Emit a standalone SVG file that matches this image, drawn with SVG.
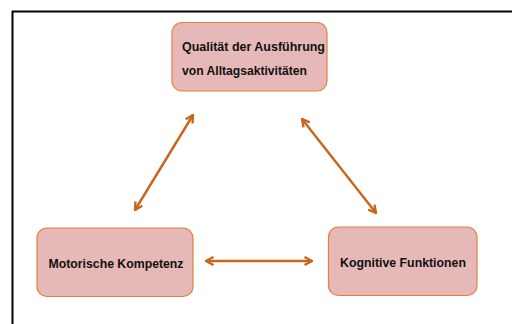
<svg xmlns="http://www.w3.org/2000/svg" width="512" height="324" viewBox="0 0 512 324">
<defs>
<style>
.box{fill:#e6b8b8;stroke:#e0843a;stroke-width:1.2}
.lbl{font-family:"Liberation Sans",Arial,sans-serif;font-weight:bold;font-size:12px;fill:#111}
.big{font-size:13px}
.conn{stroke:#c8661c;stroke-width:2.4;fill:none}
</style>
<marker id="ah" viewBox="0 0 10 10" refX="9" refY="5" markerWidth="10" markerHeight="10" markerUnits="userSpaceOnUse" orient="auto-start-reverse">
<polyline points="1.5,1 9,5 1.5,9" fill="none" stroke="#c8661c" stroke-width="2.4"/>
</marker>
</defs>
<rect width="512" height="324" fill="#fff"/>
<g id="frame">
<line x1="12" y1="11.5" x2="512" y2="11.5" stroke="#000" stroke-width="2"/>
<line x1="12.5" y1="11" x2="12.5" y2="324" stroke="#000" stroke-width="2"/>
</g>
<g id="n1">
<rect class="box" x="172" y="22.5" width="155" height="68.5" rx="10"/>
<text class="lbl" x="182" y="51" textLength="143" lengthAdjust="spacingAndGlyphs">Qualität der Ausführung</text>
<text class="lbl" x="182" y="75" textLength="125" lengthAdjust="spacingAndGlyphs">von Alltagsaktivitäten</text>
</g>
<g id="n2">
<rect class="box" x="37" y="228" width="156" height="68.5" rx="10"/>
<text class="lbl big" x="48.5" y="267.5" textLength="135" lengthAdjust="spacingAndGlyphs">Motorische Kompetenz</text>
</g>
<g id="n3">
<rect class="box" x="328.5" y="227" width="148.5" height="68.5" rx="10"/>
<text class="lbl big" x="340" y="267" textLength="126" lengthAdjust="spacingAndGlyphs">Kognitive Funktionen</text>
</g>
<g id="connectors">
<line class="conn" x1="193" y1="115" x2="135" y2="210" marker-start="url(#ah)" marker-end="url(#ah)"/>
<line class="conn" x1="302" y1="119" x2="376" y2="213" marker-start="url(#ah)" marker-end="url(#ah)"/>
<line class="conn" x1="206" y1="261" x2="312" y2="261" stroke-width="2.8" marker-start="url(#ah)" marker-end="url(#ah)"/>
</g>
</svg>
